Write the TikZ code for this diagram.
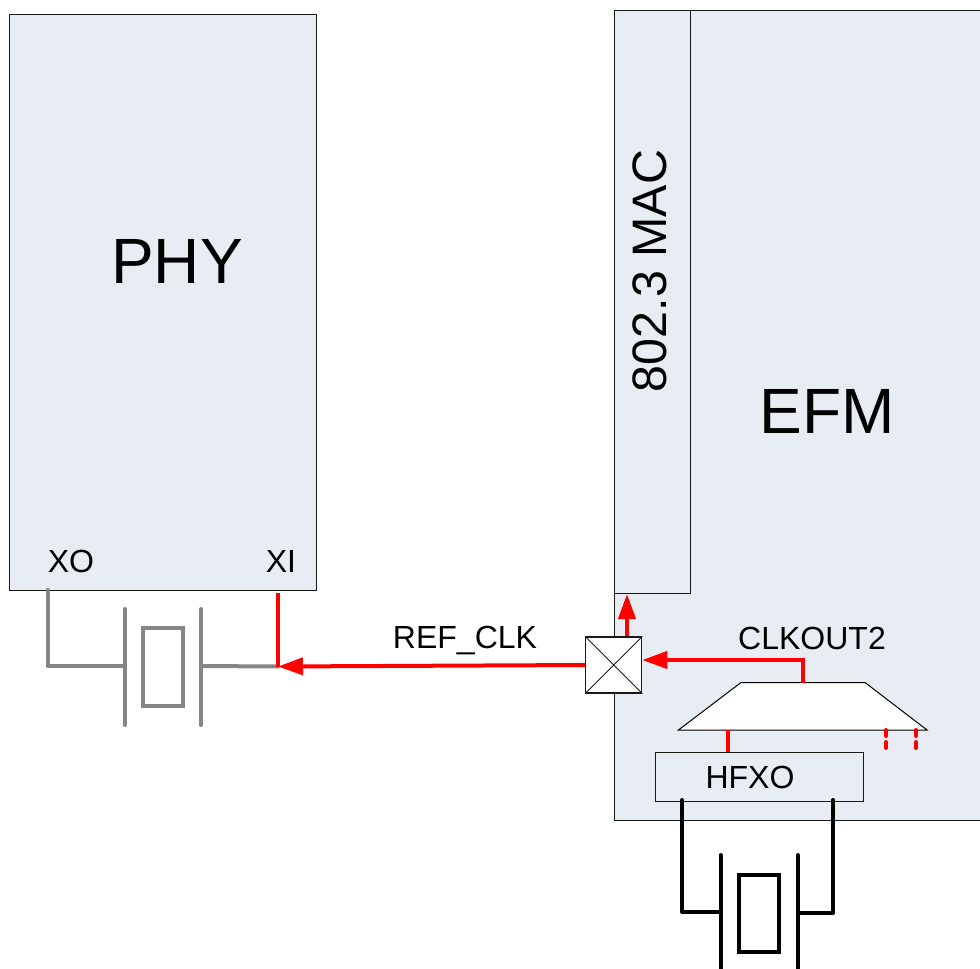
\documentclass[tikz,border=0pt]{standalone}
\usepackage{fontspec}
\setmainfont{Liberation Sans}
\usetikzlibrary{arrows.meta}
\definecolor{blockfill}{HTML}{E8EDF4}
\definecolor{xtalgray}{HTML}{858585}
\newcommand{\fs}[1]{\fontsize{#1}{#1}\selectfont}
\begin{document}
\begin{tikzpicture}[x=1pt,y=-1pt,
    block/.style={draw=black!90,line width=1.1pt,fill=blockfill,anchor=north west,inner sep=0pt},
    txt/.style={inner sep=0pt,text=black,font=\fs{32}},
    clk/.style={red,line width=4pt},
    clkarrow/.style={red,line width=4pt,-{Triangle[length=25pt,width=17pt]}},
    xtalblack/.style={black,line width=4pt,line join=round,line cap=round},
    xtalgrey/.style={xtalgray,line width=4pt,line join=round,line cap=round}]
    \clip (0,0) rectangle (980,969);
    \fill[white] (0,0) rectangle (980,969);
    % blocks
    \node[block,minimum width=307pt,minimum height=576pt] (phy) at (9,14) {};
    \node[block,minimum width=420pt,minimum height=810pt] (efm) at (613.7,10) {};
    \node[block,minimum width=76pt,minimum height=583pt] (mac) at (613.7,10) {};
    \node[block,minimum width=208pt,minimum height=49pt] (hfxo) at (655,752) {};
    \node[draw=black!90,line width=1.1pt,fill=white,minimum size=56pt,inner sep=0pt] (switch) at (613.7,665) {};
    \draw[black!90,line width=0.8pt] (switch.north west)--(switch.south east) (switch.south west)--(switch.north east);
    \draw[black,line width=1pt,fill=white] (678.5,730)--(741,682.5)--(865,682.5)--(927,730)--cycle;
    % texts
    \node[txt,font=\fs{64}] (phytext) at (177,261) {PHY};
    \node[txt,font=\fs{64}] (efmtext) at (827,411) {EFM};
    \node[txt,font=\fs{48.4},rotate=90] (mactext) at (650,271) {802.3 MAC};
    \node[txt] (xotext) at (71,561) {XO};
    \node[txt] (xitext) at (281,561) {XI};
    \node[txt] (reftext) at (465,641) {REF\_CLK};
    \node[txt] (clktext) at (812,638) {CLKOUT2};
    \node[txt] (hfxotext) at (750,777) {HFXO};
    % pins
    \coordinate (xo) at (47.5,590);
    \coordinate (xi) at (278,593);
    \coordinate (xijoin) at (278,666.5);
    \coordinate (muxin) at (727.5,730);
    \coordinate (muxa) at (886,730);
    \coordinate (muxb) at (916,730);
    \coordinate (muxout) at (803,682.5);
    \coordinate (macpin) at (627,594);
    % crystal at phy
    \draw[xtalgrey] (xo)--(47.5,666)--(124.5,666);
    \draw[xtalgrey] (124.5,609)--(124.5,725);
    \node[draw=xtalgray,line width=4pt,minimum width=40pt,minimum height=78pt,inner sep=0pt] (xtalphy) at (163,667) {};
    \draw[xtalgrey] (201,609)--(201,725);
    \draw[xtalgrey] (201,666)--(xijoin);
    % crystal at efm
    \draw[xtalblack] (682,800)--(682,912)--(720.5,912);
    \draw[xtalblack] (720.5,855)--(720.5,975);
    \node[draw=black,line width=4pt,minimum width=40pt,minimum height=77pt,inner sep=0pt] (xtalefm) at (759,913.5) {};
    \draw[xtalblack] (798,855)--(798,975);
    \draw[xtalblack] (798,913)--(833,913)--(833,800);
    % clock paths
    \draw[clk] (xi)--(xijoin);
    \draw[clkarrow] (switch.west)--(xijoin);
    \draw[clkarrow] (macpin|-switch.north)--(macpin);
    \draw[clkarrow] (muxout)--(803,660)--(switch.east|-803,660);
    \draw[clk] (muxin)--(muxin|-hfxo.north);
    \draw[clk,dash pattern=on 6pt off 6pt,line cap=round] (muxa)--++(0,18);
    \draw[clk,dash pattern=on 6pt off 6pt,line cap=round] (muxb)--++(0,18);
\end{tikzpicture}
\end{document}
